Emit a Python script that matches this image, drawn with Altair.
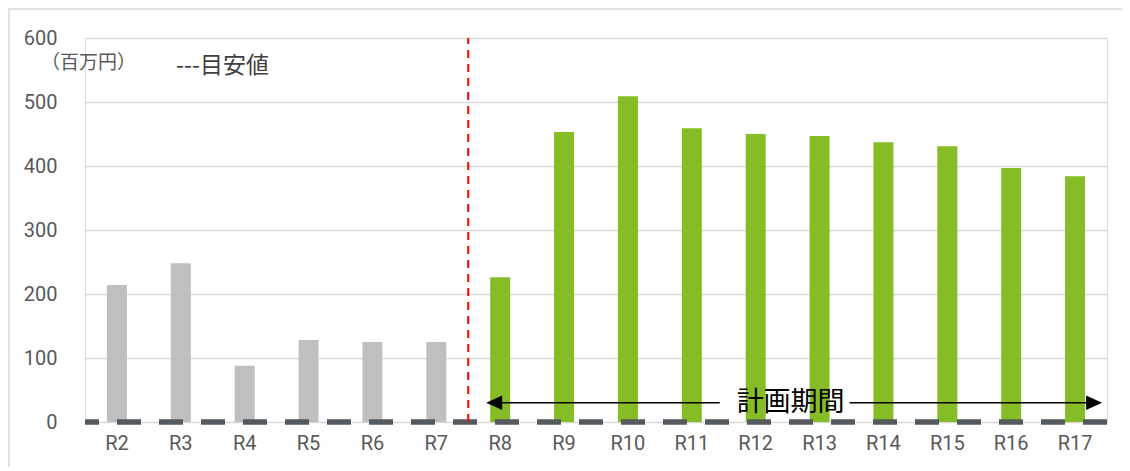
import altair as alt
import pandas as pd

FONT = "Noto Sans CJK JP"
NUM_FONT = "Roboto"

# ---- data ----
categories = ["R2", "R3", "R4", "R5", "R6", "R7", "R8", "R9", "R10",
              "R11", "R12", "R13", "R14", "R15", "R16", "R17"]
values = [214, 248, 88, 128, 125, 125, 226, 453, 509, 459, 450, 447, 437, 431, 397, 384]
groups = ["実績"] * 6 + ["計画"] * 10
group_names = ["実績", "計画"]
group_colors = ["#BFBFBF", "#86BC25"]
target_value = [0]          # 目安値
y_ticks = [0, 100, 200, 300, 400, 500, 600]
plan_start = "R8"
plan_end = "R17"
arrow_level = 30

df = pd.DataFrame({"year": categories, "value": values, "group": groups})

W, H = 1022, 384

xscale = alt.Scale(domain=categories, paddingInner=0, paddingOuter=0)
yscale = alt.Scale(domain=[0, 600], nice=False)


def X(band=None, axis=False):
    kw = {}
    if band is not None:
        kw["bandPosition"] = band
    if axis:
        return alt.X("year:N", sort=categories, scale=xscale, title=None,
                     axis=alt.Axis(labelAngle=0, labelPadding=11, domain=False, ticks=False,
                                   labelFont=NUM_FONT, labelFontSize=20, labelColor="#595959"), **kw)
    return alt.X("year:N", sort=categories, scale=xscale, title=None, **kw)


def Y(axis=False):
    if axis:
        return alt.Y("value:Q", scale=yscale, title=None,
                     axis=alt.Axis(values=y_ticks, grid=True, gridColor="#D9D9D9", gridWidth=1.5,
                                   domain=False, ticks=False, labelPadding=28,
                                   labelFont=NUM_FONT, labelFontSize=20, labelColor="#595959"))
    return alt.Y("value:Q", scale=yscale, title=None)


one = pd.DataFrame({"a": [0]})

# border frame around the chart
frame = alt.Chart(one).mark_rect(fillOpacity=0, stroke="#D9D9D9", strokeWidth=1.5).encode(
    x=alt.value(-76), x2=alt.value(1200), y=alt.value(-29), y2=alt.value(600))

bars = alt.Chart(df).mark_bar(size=20).encode(
    x=X(axis=True), y=Y(axis=True),
    color=alt.Color("group:N", scale=alt.Scale(domain=group_names, range=group_colors), legend=None))

target = alt.Chart(pd.DataFrame({"value": target_value})).mark_rule(
    color="#555A5F", strokeWidth=5.5, strokeDash=[24, 18]).encode(y=Y())

red = alt.Chart(pd.DataFrame({"year": [plan_start], "value": [0], "value2": [600]})).mark_rule(
    color="#FF0000", strokeWidth=2, strokeDash=[8, 6]).encode(
    x=X(band=0), y=Y(), y2="value2:Q")

seg_left = alt.Chart(pd.DataFrame({"year": [plan_start], "year2": ["R12"], "value": [arrow_level]})).mark_rule(
    color="black", strokeWidth=1.5, xOffset=-6, x2Offset=-36).encode(x=X(), x2="year2:N", y=Y())
seg_right = alt.Chart(pd.DataFrame({"year": ["R13"], "year2": [plan_end], "value": [arrow_level]})).mark_rule(
    color="black", strokeWidth=1.5, xOffset=30, x2Offset=19).encode(x=X(), x2="year2:N", y=Y())

head_left = alt.Chart(pd.DataFrame({"year": [plan_start], "value": [arrow_level]})).mark_point(
    shape="M-1,0L1,-0.9L1,0.9Z", size=256, filled=True, color="black", opacity=1, xOffset=-6).encode(
    x=X(), y=Y())
head_right = alt.Chart(pd.DataFrame({"year": [plan_end], "value": [arrow_level]})).mark_point(
    shape="M1,0L-1,-0.9L-1,0.9Z", size=256, filled=True, color="black", opacity=1, xOffset=19).encode(
    x=X(), y=Y())

plan_text = alt.Chart(pd.DataFrame({"year": ["R13"], "value": [arrow_level], "t": ["計画期間"]})).mark_text(
    font=FONT, fontSize=27, color="black", align="center", baseline="middle", dx=3).encode(
    x=X(band=0), y=Y(), text="t:N")

unit_text = alt.Chart(one).mark_text(
    text="（百万円）", font=FONT, fontSize=19, color="#595959", align="left", baseline="middle").encode(
    x=alt.value(-44), y=alt.value(25))
legend_text = alt.Chart(one).mark_text(
    text="---目安値", font=FONT, fontSize=23, color="#404040", align="left", baseline="middle").encode(
    x=alt.value(91), y=alt.value(28))

chart = alt.layer(
    frame, bars, target, red, seg_left, seg_right, head_left, head_right, plan_text, unit_text, legend_text
).properties(
    width=W, height=H,
    autosize=alt.AutoSizeParams(type="none"),
    padding={"left": 77, "top": 30, "right": 15, "bottom": 45},
).configure_view(stroke=None).configure(background="white")

chart.save("out.html", embed_options={"renderer": "svg", "actions": False})
